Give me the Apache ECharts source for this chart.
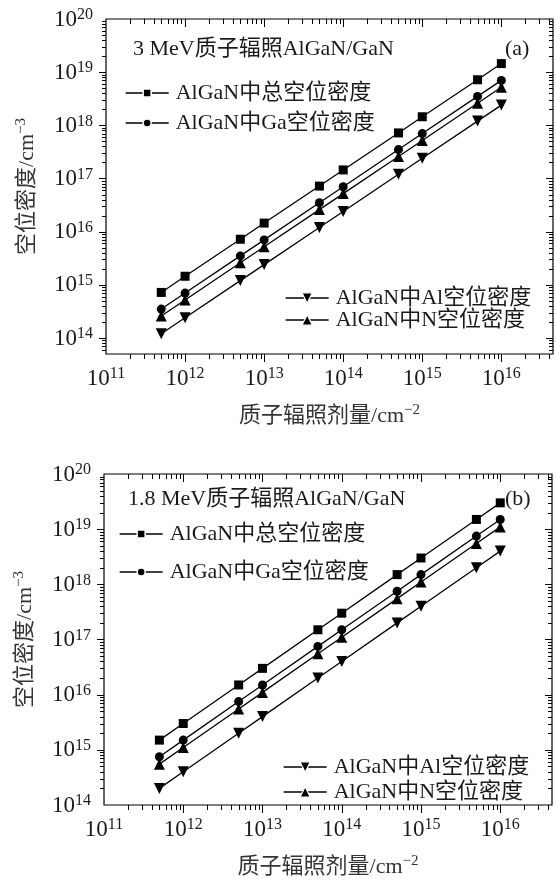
<!DOCTYPE html>
<html><head><meta charset="utf-8">
<script src="https://cdn.jsdelivr.net/npm/echarts@6/dist/echarts.min.js"></script>
<style>html,body{margin:0;padding:0;background:#fff}#c{width:556px;height:880px}</style>
</head><body><div id="c"></div>
<script>
// ---- data ----
const doses = [5e11, 1e12, 5e12, 1e13, 5e13, 1e14, 5e14, 1e15, 5e15, 1e16];
const names = ['AlGaN中总空位密度', 'AlGaN中Ga空位密度', 'AlGaN中Al空位密度', 'AlGaN中N空位密度'];
// (a) 3 MeV
const totalA = [7.2e14, 1.45e15, 7.2e15, 1.45e16, 7.2e16, 1.45e17, 7.2e17, 1.45e18, 7.2e18, 1.45e19];
const gaA    = [3.5e14, 7e14, 3.5e15, 7e15, 3.5e16, 7e16, 3.5e17, 7e17, 3.5e18, 7e18];
const alA    = [1.2e14, 2.4e14, 1.2e15, 2.4e15, 1.2e16, 2.4e16, 1.2e17, 2.4e17, 1.2e18, 2.4e18];
const nA     = [2.6e14, 5.2e14, 2.6e15, 5.2e15, 2.6e16, 5.2e16, 2.6e17, 5.2e17, 2.6e18, 5.2e18];
// (b) 1.8 MeV
const totalB = [1.5e15, 3e15, 1.5e16, 3e16, 1.5e17, 3e17, 1.5e18, 3e18, 1.5e19, 3e19];
const gaB    = [7.5e14, 1.5e15, 7.5e15, 1.5e16, 7.5e16, 1.5e17, 7.5e17, 1.5e18, 7.5e18, 1.5e19];
const alB    = [2e14, 4e14, 2e15, 4e15, 2e16, 4e16, 2e17, 4e17, 2e18, 4e18];
const nB     = [5.5e14, 1.1e15, 5.5e15, 1.1e16, 5.5e16, 1.1e17, 5.5e17, 1.1e18, 5.5e18, 1.1e19];
// axis ranges / tick exponents
const xMin = 1e11, xMax = 4.5e16;
const yMinA = 5e13, yMaxA = 1e20;
const yMinB = 1e14, yMaxB = 1e20;
const xTickExps = [11, 12, 13, 14, 15, 16];
const yTickExps = [13, 14, 15, 16, 17, 18, 19, 20];
const titleA = '3 MeV质子辐照AlGaN/GaN';
const titleB = '1.8 MeV质子辐照AlGaN/GaN';

// ---- styling ----
const FF = '"Liberation Serif", "Noto Sans CJK SC", serif';
const TC = '#1a1a1a';
const chart = echarts.init(document.getElementById('c'));

const rich = {
  b: {fontSize: 23, fontFamily: FF, color: TC, lineHeight: 24, verticalAlign: 'bottom'},
  s: {fontSize: 16, fontFamily: FF, color: TC, lineHeight: 16, verticalAlign: 'top', padding: [0, 0, 10, 0]}
};
const nameRich = {
  t: {fontSize: 22, fontFamily: FF, color: '#333', lineHeight: 24, verticalAlign: 'bottom'},
  s: {fontSize: 15, fontFamily: FF, color: '#333', lineHeight: 15, verticalAlign: 'top', padding: [0, 0, 10, 0]}
};
function powFmt(v) {
  const e = Math.log10(v), r = Math.round(e);
  if (Math.abs(e - r) > 1e-6) return '';
  return '{b|10}{s|' + r + '}';
}

const symbols = [
  {symbol: 'rect', rotate: 0},
  {symbol: 'circle', rotate: 0},
  {symbol: 'triangle', rotate: 180},
  {symbol: 'triangle', rotate: 0}
];

function lineSeries(gi, arr, k) {
  return {
    type: 'line', name: names[k], xAxisIndex: gi, yAxisIndex: gi,
    data: doses.map((d, i) => [d, arr[i]]),
    symbol: symbols[k].symbol, symbolRotate: symbols[k].rotate,
    symbolSize: k >= 2 ? 11 : 9,
    itemStyle: {color: '#000'}, lineStyle: {color: '#000', width: 1.3},
    animation: false, z: 3
  };
}

function tickSeries(gi, yMin, yMax) {
  const data = [];
  const yRef = 1e16, xRef = 1e13;
  xTickExps.forEach(e => { for (let m = 1; m <= 9; m++) { const v = m * Math.pow(10, e); if (v > xMin * 1.0001 && v < xMax * 0.9999) data.push([v, yRef, 0, m === 1 ? 1 : 0]); } });
  yTickExps.forEach(e => { for (let m = 1; m <= 9; m++) { const v = m * Math.pow(10, e); if (v > yMin * 1.0001 && v < yMax * 0.9999) data.push([xRef, v, 1, m === 1 ? 1 : 0]); } });
  return {
    type: 'custom', xAxisIndex: gi, yAxisIndex: gi, data: data, clip: false, silent: true, animation: false, z: 5,
    renderItem: function (params, api) {
      const cs = params.coordSys;
      const kind = api.value(2), major = api.value(3);
      const p = api.coord([api.value(0), api.value(1)]);
      const st = {stroke: '#000', lineWidth: 1};
      if (kind === 0) {
        const L = major ? 8 : 5;
        const x = Math.round(p[0]) + 0.5;
        const yb = cs.y + cs.height, yt = cs.y;
        return {type: 'group', children: [
          {type: 'line', shape: {x1: x, y1: yb, x2: x, y2: yb + L}, style: st},
          {type: 'line', shape: {x1: x, y1: yt, x2: x, y2: yt + L}, style: st}
        ]};
      } else {
        const L = major ? 7 : 4;
        const y = Math.round(p[1]) + 0.5;
        const xl = cs.x, xr = cs.x + cs.width;
        return {type: 'group', children: [
          {type: 'line', shape: {x1: xl - L, y1: y, x2: xl, y2: y}, style: st},
          {type: 'line', shape: {x1: xr - L, y1: y, x2: xr, y2: y}, style: st}
        ]};
      }
    }
  };
}

function xAxisCfg(gi) {
  return {
    type: 'log', logBase: 10, gridIndex: gi, min: xMin, max: xMax,
    axisLine: {show: false}, axisTick: {show: false}, splitLine: {show: false},
    axisLabel: {formatter: powFmt, rich: rich, margin: 12},
    name: '{t|质子辐照剂量/cm}{s|−2}', nameLocation: 'middle', nameGap: 49,
    nameTextStyle: {rich: nameRich}
  };
}
function yAxisCfg(gi, mn, mx) {
  return {
    type: 'log', logBase: 10, gridIndex: gi, min: mn, max: mx,
    axisLine: {show: false}, axisTick: {show: false}, splitLine: {show: false},
    axisLabel: {formatter: powFmt, rich: rich, margin: 13},
    name: '{t|空位密度/cm}{s|−3}', nameLocation: 'middle', nameGap: 68,
    nameTextStyle: {rich: nameRich}
  };
}

function legendItem(k, left, cy) {
  const tri = k >= 2;
  return {
    data: [names[k]], left: left, top: cy - 11, orient: 'vertical',
    itemWidth: 43, itemHeight: tri ? 13 : 10, selectedMode: false,
    itemStyle: {borderColor: '#fff', borderWidth: tri ? 1.2 : 1.5},
    lineStyle: {width: 1.3, color: '#000'},
    textStyle: {fontSize: 22, fontFamily: FF, color: TC, lineHeight: 22, padding: [0, 0, 0, 2]}
  };
}

function txt(x, y, s) {
  return {type: 'text', left: x, top: y - 12, style: {text: s, font: '22px ' + FF, fill: TC}};
}

const option = {
  backgroundColor: '#fff',
  animation: false,
  grid: [
    {left: 106, top: 19, width: 447, height: 335, show: true, borderColor: '#000', borderWidth: 1.2, containLabel: false},
    {left: 104, top: 474, width: 448, height: 335, show: true, borderColor: '#000', borderWidth: 1.2, containLabel: false}
  ],
  xAxis: [xAxisCfg(0), xAxisCfg(1)],
  yAxis: [yAxisCfg(0, yMinA, yMaxA), yAxisCfg(1, yMinB, yMaxB)],
  legend: [
    legendItem(0, 120, 88), legendItem(1, 120, 118), legendItem(2, 280, 293), legendItem(3, 280, 315),
    legendItem(0, 114, 529), legendItem(1, 114, 567), legendItem(2, 278, 762), legendItem(3, 278, 787)
  ],
  graphic: [
    txt(133, 50, titleA), txt(505, 50, '(a)'),
    txt(128, 500, titleB), txt(505, 500, '(b)')
  ],
  series: [
    lineSeries(0, totalA, 0), lineSeries(0, gaA, 1), lineSeries(0, alA, 2), lineSeries(0, nA, 3),
    lineSeries(1, totalB, 0), lineSeries(1, gaB, 1), lineSeries(1, alB, 2), lineSeries(1, nB, 3),
    tickSeries(0, yMinA, yMaxA), tickSeries(1, yMinB, yMaxB)
  ]
};
chart.setOption(option);
</script>
</body></html>
